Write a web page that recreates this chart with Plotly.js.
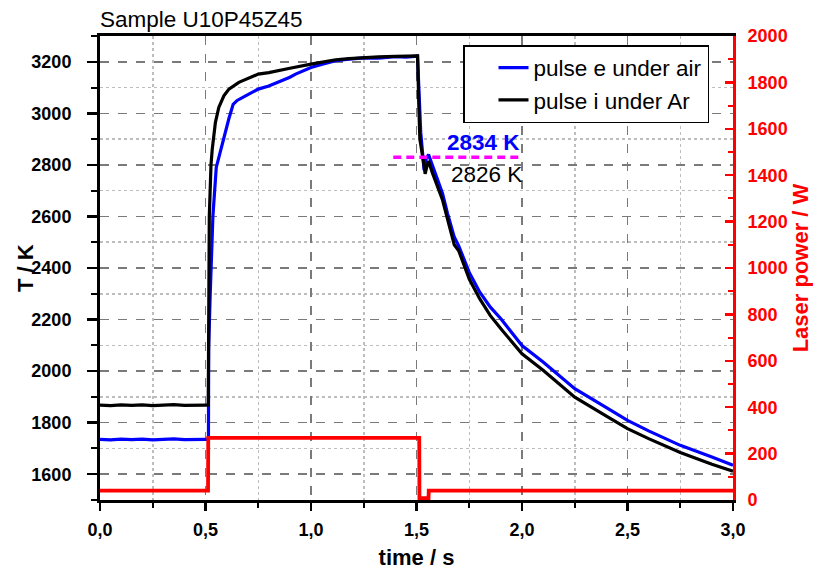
<!DOCTYPE html>
<html>
<head>
<meta charset="utf-8">
<script src="https://cdn.plot.ly/plotly-3.0.1.min.js"></script>
<style>html,body{margin:0;padding:0;background:#fff;}#chart{width:813px;height:571px;}</style>
</head>
<body>
<div id="chart"></div>
<script>
// pulse e under air (blue)
const airTime = [0, 0.05, 0.1, 0.15, 0.2, 0.25, 0.3, 0.35, 0.4, 0.45, 0.5, 0.514, 0.515, 0.522, 0.526, 0.535, 0.551, 0.563, 0.575, 0.585, 0.611, 0.631, 0.65, 0.69, 0.75, 0.8, 0.848, 0.9, 0.927, 0.96, 1.0, 1.05, 1.117, 1.18, 1.25, 1.32, 1.4, 1.45, 1.505, 1.51, 1.52, 1.536, 1.544, 1.557, 1.576, 1.592, 1.623, 1.647, 1.679, 1.7, 1.75, 1.8, 1.85, 1.9, 2.0, 2.1, 2.25, 2.4, 2.5, 2.6, 2.75, 2.9, 3.0];
const airTemp = [1735, 1733, 1736, 1734, 1736, 1733, 1735, 1737, 1734, 1736, 1735, 1735, 2090, 2290, 2390, 2600, 2790, 2830, 2870, 2897, 2980, 3035, 3050, 3068, 3094, 3106, 3122, 3140, 3152, 3165, 3178, 3190, 3204, 3210, 3215, 3214, 3220, 3218, 3222, 3120, 2926, 2780, 2820, 2840, 2795, 2755, 2690, 2612, 2520, 2486, 2383, 2306, 2248, 2203, 2099, 2035, 1932, 1858, 1809, 1768, 1712, 1667, 1635];

// pulse i under Ar (black)
const arTime = [0, 0.05, 0.1, 0.15, 0.2, 0.25, 0.3, 0.35, 0.4, 0.45, 0.5, 0.513, 0.514, 0.518, 0.526, 0.532, 0.547, 0.563, 0.587, 0.611, 0.658, 0.7, 0.75, 0.8, 0.848, 0.9, 1.0, 1.05, 1.117, 1.18, 1.25, 1.32, 1.4, 1.45, 1.505, 1.512, 1.516, 1.536, 1.541, 1.548, 1.557, 1.575, 1.592, 1.623, 1.647, 1.679, 1.7, 1.75, 1.8, 1.85, 1.9, 2.0, 2.1, 2.25, 2.4, 2.5, 2.6, 2.75, 2.9, 3.0];
const arTemp = [1868, 1866, 1869, 1867, 1869, 1866, 1868, 1870, 1867, 1869, 1868, 1868, 2350, 2600, 2800, 2861, 2965, 3023, 3068, 3094, 3120, 3135, 3152, 3158, 3165, 3175, 3191, 3198, 3208, 3212, 3217, 3219, 3221, 3222, 3223, 3000, 2900, 2796, 2765, 2790, 2815, 2770, 2735, 2665, 2590, 2490, 2467, 2357, 2280, 2215, 2164, 2067, 2003, 1899, 1825, 1777, 1738, 1684, 1639, 1612];

// laser power (red, right axis)
const laserTime = [0, 0.25, 0.512, 0.513, 1.0, 1.513, 1.514, 1.557, 1.558, 2.0, 2.5, 3.0];
const laserPower = [40, 40, 40, 268, 268, 268, 8, 8, 40, 40, 40, 40];

// marker line and labels
const markTime = [1.39, 2.0];
const markTemp = [2830, 2830];
const labelAir = {t: 1.818, T: 2887, text: '2834 K'};
const labelAr = {t: 1.834, T: 2763, text: '2826 K'};

const FF = 'Liberation Sans, Arial, sans-serif';

const traces = [
  {x: airTime, y: airTemp, type: 'scatter', mode: 'lines', name: 'pulse e under air',
   line: {color: '#0000ff', width: 3.2}},
  {x: arTime, y: arTemp, type: 'scatter', mode: 'lines', name: 'pulse i under Ar',
   line: {color: '#000000', width: 3.2}},
  {x: markTime, y: markTemp, type: 'scatter', mode: 'lines', showlegend: false,
   line: {color: '#ff00ff', width: 3.5, dash: '8px,5px'}},
  {x: laserTime, y: laserPower, type: 'scatter', mode: 'lines', yaxis: 'y2', showlegend: false,
   line: {color: '#ff0000', width: 3.8}}
];

const gridMajor = {showgrid: true, gridcolor: '#7a7a7a', griddash: 'dash', gridwidth: 1.5};

const layout = {
  width: 813, height: 571,
  margin: {l: 100, r: 80, t: 36, b: 71},
  paper_bgcolor: '#ffffff', plot_bgcolor: '#ffffff',
  separators: ',.',
  font: {family: FF, color: '#000'},
  showlegend: true,
  title: {text: 'Sample U10P45Z45', xref: 'container', x: 100/813, xanchor: 'left',
          yref: 'container', y: 1 - 19.5/571, yanchor: 'middle',
          font: {family: FF, size: 22.5, color: '#000'}},
  xaxis: Object.assign({
    range: [0, 3], tick0: 0, dtick: 0.5, tickformat: '.1f',
    showline: true, linecolor: '#000', linewidth: 3, mirror: true,
    ticks: 'outside', ticklen: 8, tickwidth: 2.5, tickcolor: '#000',
    tickfont: {family: FF, size: 18, weight: 'bold', color: '#000'},
    ticklabelstandoff: 3,
    zeroline: false,
    minor: {dtick: 0.25, ticks: 'outside', ticklen: 5, tickwidth: 2, tickcolor: '#000',
            showgrid: true, gridcolor: '#bdbdbd', griddash: 'dot', gridwidth: 1.5},
    title: {text: 'time / s', standoff: 12, font: {family: FF, size: 22, weight: 'bold', color: '#000'}}
  }, gridMajor),
  yaxis: Object.assign({
    range: [1500, 3300], tick0: 0, dtick: 200,
    showline: true, linecolor: '#000', linewidth: 3,
    ticks: 'outside', ticklen: 10, tickwidth: 2.5, tickcolor: '#000',
    tickfont: {family: FF, size: 18, weight: 'bold', color: '#000'},
    ticklabelstandoff: 12,
    zeroline: false,
    minor: {dtick: 100, ticks: 'outside', ticklen: 6, tickwidth: 2, tickcolor: '#000',
            showgrid: true, gridcolor: '#bdbdbd', griddash: 'dot', gridwidth: 1.5}
  }, gridMajor),
  yaxis2: {
    overlaying: 'y', side: 'right', range: [0, 2000], tick0: 0, dtick: 200,
    showline: true, linecolor: '#ff0000', linewidth: 3,
    ticks: 'inside', ticklen: 8, tickwidth: 2.5, tickcolor: '#ff0000',
    tickfont: {family: FF, size: 18, weight: 'bold', color: '#ff0000'},
    ticklabelstandoff: 8,
    showgrid: false, zeroline: false,
    minor: {dtick: 100, ticks: 'inside', ticklen: 5, tickwidth: 2, tickcolor: '#ff0000', showgrid: false},
    title: {text: 'Laser power / W', standoff: 9, font: {family: FF, size: 22, weight: 'bold', color: '#ff0000'}}
  },
  legend: {x: (463 - 100) / 633, y: (500 - 45) / 464, xanchor: 'left', yanchor: 'top',
           bgcolor: '#ffffff', bordercolor: '#000', borderwidth: 1.5, indentation: 29,
           font: {family: FF, size: 22.5, color: '#000'}},
  annotations: [
    {x: labelAir.t, y: labelAir.T, xref: 'x', yref: 'y', text: labelAir.text, showarrow: false,
     font: {family: FF, size: 22.5, weight: 'bold', color: '#0000ff'}},
    {x: labelAr.t, y: labelAr.T, xref: 'x', yref: 'y', text: labelAr.text, showarrow: false,
     font: {family: FF, size: 22.5, color: '#000'}},
    {x: 0, y: 0.5, xref: 'paper', yref: 'paper', xanchor: 'center', yanchor: 'middle',
     xshift: -75, text: 'T / K', textangle: -90, showarrow: false,
     font: {family: FF, size: 22, weight: 'bold', color: '#000'}}
  ]
};

Plotly.newPlot('chart', traces, layout, {displayModeBar: false, staticPlot: true});
</script>
</body>
</html>
